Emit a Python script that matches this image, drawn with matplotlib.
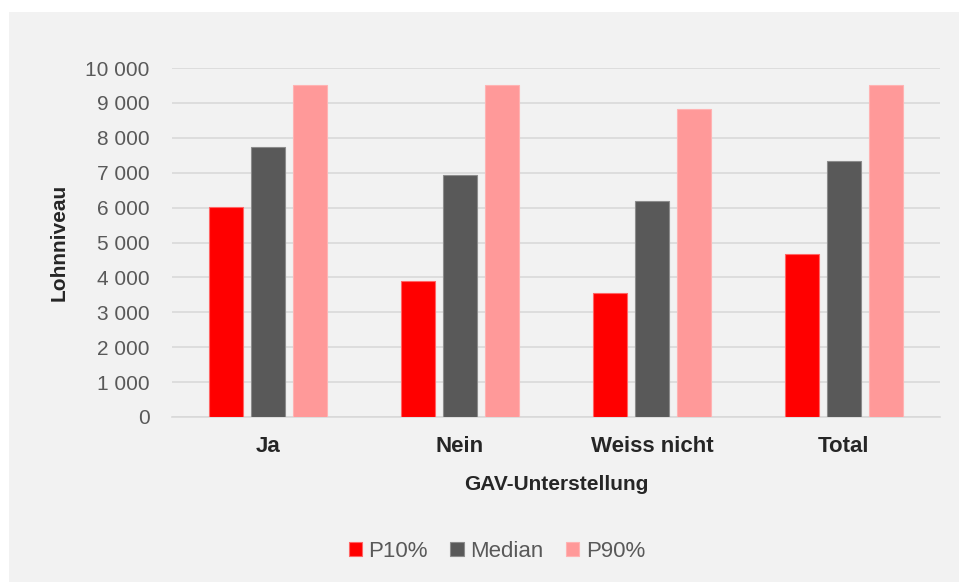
import numpy as np
import matplotlib.pyplot as plt
from matplotlib.patches import Rectangle
from matplotlib.ticker import FuncFormatter

# data
categories = ["Ja", "Nein", "Weiss nicht", "Total"]
p10 = [6020, 3900, 3550, 4660]
median = [7740, 6930, 6200, 7340]
p90 = [9510, 9510, 8820, 9510]
series_names = ["P10%", "Median", "P90%"]
colors = ["#ff0000", "#595959", "#ff9999"]
edges = ["#ff6666", "#8c8c8c", "#ffb3b3"]

plt.rcParams.update({
    'font.family': ['Liberation Sans', 'DejaVu Sans'],
    'font.size': 16,
})

fig = plt.figure(figsize=(9.59, 5.82), dpi=100, facecolor="white")
# grey panel behind everything
fig.patches.append(Rectangle((9 / 959, 0), 1, 1 - 12 / 582, transform=fig.transFigure,
                             facecolor="#f2f2f2", edgecolor="none", zorder=-1))

ax = fig.add_axes([172 / 959, 1 - 417 / 582, 768 / 959, 349 / 582])
ax.set_facecolor("none")

x = np.arange(len(categories))
width = 0.177
step = 0.219
for i, (vals, name) in enumerate(zip([p10, median, p90], series_names)):
    ax.bar(x + (i - 1) * step, vals, width, color=colors[i], edgecolor=edges[i],
           linewidth=0.8, label=name, zorder=3)

ax.set_xlim(-0.5, len(categories) - 0.5)
ax.set_ylim(0, 10000)
ax.set_yticks(np.arange(0, 10001, 1000))
ax.yaxis.set_major_formatter(FuncFormatter(lambda v, p: f"{int(v):,}".replace(",", " ")))
ax.grid(axis="y", color="#d9d9d9", linewidth=1.2, zorder=0)
ax.set_axisbelow(True)
for s in ["top", "right", "left"]:
    ax.spines[s].set_visible(False)
ax.spines["bottom"].set_color("#d9d9d9")
ax.spines["bottom"].set_linewidth(1.2)

ax.set_xticks(x)
ax.set_xticklabels(categories, fontweight="bold", color="#262626")
ax.tick_params(axis="x", length=0, pad=14)
ax.tick_params(axis="y", length=0, pad=16, colors="#595959", labelsize=15)

ax.set_xlabel("GAV-Unterstellung", fontweight="bold", color="#262626", fontsize=15, labelpad=13)
ax.set_ylabel("Lohnniveau", fontweight="bold", color="#262626", fontsize=15, labelpad=12)

fig.legend(loc="center", bbox_to_anchor=(0.518, 0.052), ncol=3, frameon=False,
           handlelength=0.6, handleheight=0.6, handletextpad=0.3, columnspacing=1.0,
           labelcolor="#595959", fontsize=16)

plt.savefig("out.png", dpi=100, facecolor=fig.get_facecolor())
